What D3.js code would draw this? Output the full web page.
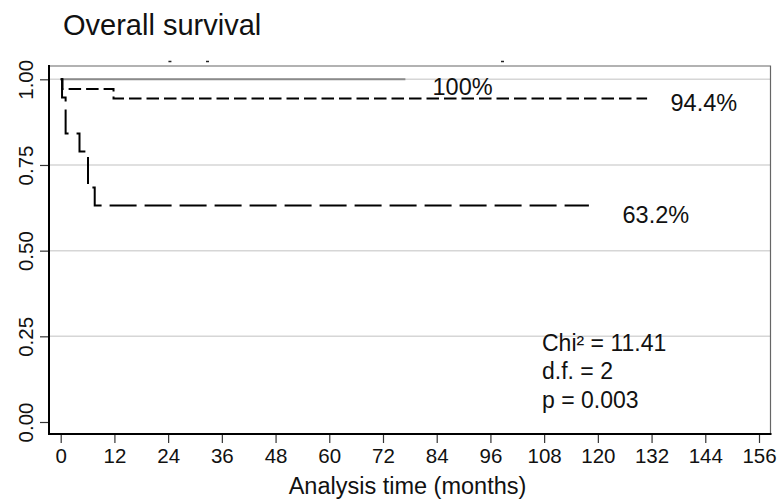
<!DOCTYPE html>
<html>
<head>
<meta charset="utf-8">
<script src="https://cdn.jsdelivr.net/npm/d3@7"></script>
<style>
  body { margin: 0; background: #fff; }
  text { font-family: "Liberation Sans", Arial, sans-serif; fill: #111; }
</style>
</head>
<body>
<svg width="779" height="499"></svg>
<script>
// Kaplan-Meier steps: [time in months, survival]
var groupA = [[0, 1], [77, 1]];
var groupB = [[0, 1], [0.4, 0.972], [11.8, 0.944], [131, 0.944]];
var groupC = [[0, 1], [0.3, 0.947], [1.1, 0.842], [4.2, 0.789], [6.1, 0.684], [7.6, 0.632], [118, 0.632]];
var endLabels = ["100%", "94.4%", "63.2%"];
var censorTop = [24.4, 32.8, 98.7]; // little marks above the frame
var xTicks = d3.range(0, 157, 12);
var yTicks = [0, 0.25, 0.5, 0.75, 1];
var stats = ["Chi² = 11.41", "d.f. = 2", "p = 0.003"];

var svg = d3.select("svg");

var x = d3.scaleLinear().domain([0, 156]).range([60.7, 759]);
var y = d3.scaleLinear().domain([0, 1]).range([422, 79.3]);

var pLeft = 49, pRight = 770.5, pTop = 66, pBottom = 434;

// grid
svg.append("g")
  .selectAll("line")
  .data(yTicks.filter(d => d > 0))
  .enter()
  .append("line")
  .attr("x1", pLeft).attr("x2", pRight)
  .attr("y1", d => y(d)).attr("y2", d => y(d))
  .attr("stroke", "#d6d6d6")
  .attr("stroke-width", 1.5);

// frame top/right
svg.append("path")
  .attr("d", `M${pLeft},${pTop}H${pRight}V${pBottom}`)
  .attr("fill", "none")
  .attr("stroke", "#666")
  .attr("stroke-width", 1.2);

// axes
var yAxis = svg.append("g")
  .attr("transform", `translate(${pLeft},0)`)
  .call(d3.axisLeft(y).tickValues(yTicks).tickFormat(d3.format(".2f")).tickSize(9));
yAxis.select(".domain").remove();
yAxis.selectAll(".tick line").attr("stroke", "#333").attr("stroke-width", 1.2);
yAxis.selectAll(".tick text")
  .attr("transform", "translate(-16,0) rotate(-90)")
  .attr("x", 0).attr("y", 0).attr("dy", 0)
  .attr("text-anchor", "middle")
  .style("font-size", "20.5px")
  .attr("font-family", null);

var xAxis = svg.append("g")
  .attr("transform", `translate(0,${pBottom})`)
  .call(d3.axisBottom(x).tickValues(xTicks).tickSize(9).tickPadding(5));
xAxis.select(".domain").remove();
xAxis.selectAll(".tick line").attr("stroke", "#333").attr("stroke-width", 1.2);
xAxis.selectAll(".tick text").style("font-size", "20.5px").attr("font-family", null);

svg.append("path")
  .attr("d", `M${pLeft},${pTop - 1}V${pBottom}H${pRight + 1}`)
  .attr("fill", "none")
  .attr("stroke", "#000")
  .attr("stroke-width", 2);

// survival curves
var line = d3.line()
  .x(d => x(d[0]))
  .y(d => y(d[1]))
  .curve(d3.curveStepAfter);

svg.append("path").datum(groupA)
  .attr("d", line).attr("fill", "none")
  .attr("stroke", "#8a8a8a").attr("stroke-width", 2);

svg.append("path").datum(groupB)
  .attr("d", line).attr("fill", "none")
  .attr("stroke", "#000").attr("stroke-width", 2)
  .attr("stroke-dasharray", "12.5,5");

svg.append("path").datum(groupC)
  .attr("d", line).attr("fill", "none")
  .attr("stroke", "#000").attr("stroke-width", 2)
  .attr("stroke-dasharray", "27,8");

// censor marks above frame
svg.append("g")
  .selectAll("line")
  .data(censorTop)
  .enter()
  .append("line")
  .attr("x1", d => x(d) - 1.5).attr("x2", d => x(d) + 1.5)
  .attr("y1", 61.5).attr("y2", 61.5)
  .attr("stroke", "#222").attr("stroke-width", 1.5);

// end labels
var labelPos = [[432.5, 94.5], [670.5, 110.5], [622.5, 223]];
svg.append("g")
  .selectAll("text")
  .data(endLabels)
  .enter()
  .append("text")
  .attr("x", (d, i) => labelPos[i][0])
  .attr("y", (d, i) => labelPos[i][1])
  .style("font-size", "23.5px")
  .text(d => d);

// test statistics
svg.append("g")
  .selectAll("text")
  .data(stats)
  .enter()
  .append("text")
  .attr("x", 542)
  .attr("y", (d, i) => 350.5 + i * 28.5)
  .style("font-size", "23px")
  .text(d => d);

// titles
svg.append("text")
  .attr("x", 63).attr("y", 35)
  .style("font-size", "29px")
  .text("Overall survival");

svg.append("text")
  .attr("x", 407.5).attr("y", 494)
  .attr("text-anchor", "middle")
  .style("font-size", "23.5px")
  .text("Analysis time (months)");
</script>
</body>
</html>
